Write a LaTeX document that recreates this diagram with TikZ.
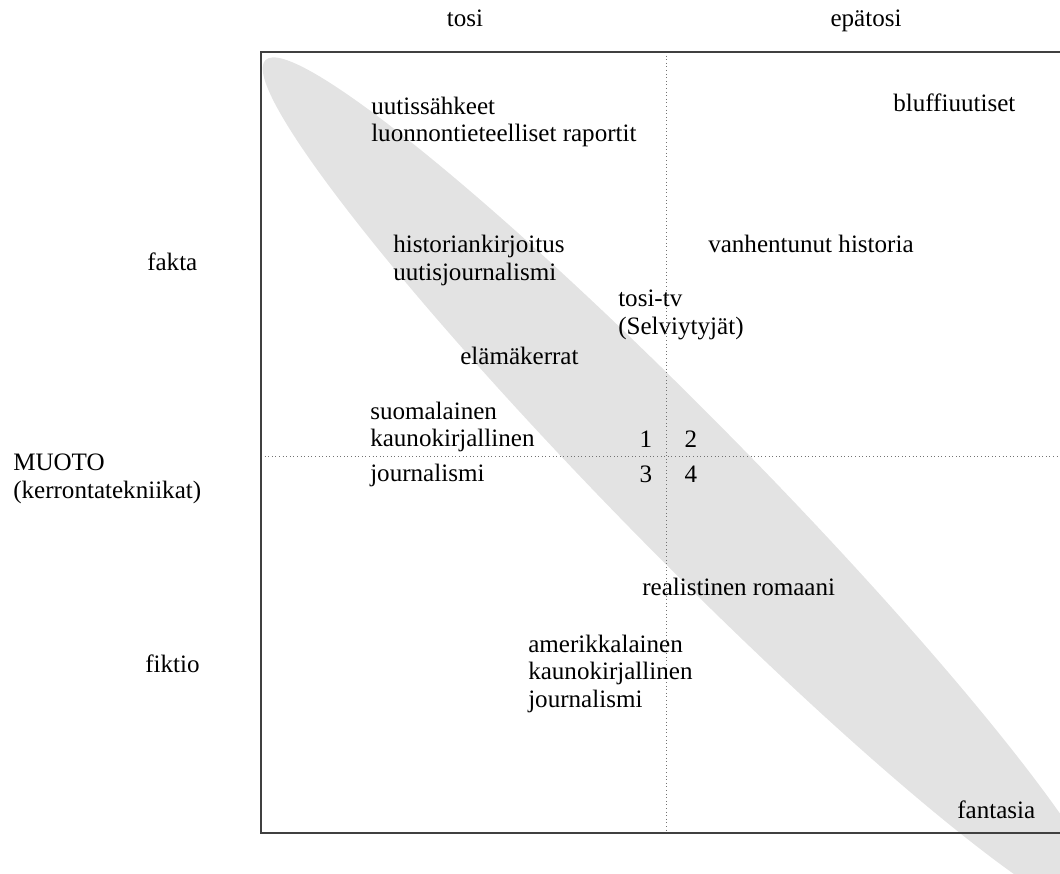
\documentclass[tikz,border=0pt]{standalone}
\usepackage{fontspec}
\setmainfont{Liberation Serif}
\begin{document}
\begin{tikzpicture}[x=0.75pt,y=-0.75pt]
      \tikzstyle{every node}=[inner sep=0pt, font=\fontsize{18.8}{20.6}\selectfont]
      \tikzstyle{lbl}=[anchor=base west, align=left]
      \tikzstyle{num}=[anchor=base]
      \tikzstyle{cross}=[black!55, dotted, line width=0.7pt]
      \useasboundingbox (0,0) rectangle (1060,874);
      \clip (0,0) rectangle (1060,874);
      % band behind the quadrants
      \fill[black!11, rotate around={-45.5:(686,488)}] (686,488) ellipse [x radius=600, y radius=68];
      \coordinate (nw) at (261,52);
      \coordinate (se) at (1075,833);
      \coordinate (vt) at (666,52);
      \coordinate (vb) at (666,833);
      \coordinate (hl) at (261,456.5);
      \coordinate (hr) at (1075,456.5);
      \draw[cross] (vt) -- (vb);
      \draw[cross] (hl) -- (hr);
      \draw[black!75, line width=1.2pt] (nw) rectangle (se);
      % axis labels
      \node[num] (tosi) at (465,27) {tosi};
      \node[num] (epatosi) at (866,27) {epätosi};
      \node[lbl] (fakta) at (147,270) {fakta};
      \node[lbl] (muoto) at (13,498) {MUOTO\\(kerrontatekniikat)};
      \node[lbl] (fiktio) at (145,672) {fiktio};
      % genres
      \node[lbl] (uutis) at (371,142) {uutissähkeet\\luonnontieteelliset raportit};
      \node[lbl] (bluffi) at (893,112) {bluffiuutiset};
      \node[lbl] (histo) at (393,280) {historiankirjoitus\\uutisjournalismi};
      \node[lbl] (vanha) at (708,252) {vanhentunut historia};
      \node[lbl] (tositv) at (618,334) {tosi-tv\\(Selviytyjät)};
      \node[lbl] (elama) at (460,364) {elämäkerrat};
      \node[lbl] (suomi) at (370,481) {suomalainen\\kaunokirjallinen\\[5pt]journalismi};
      \node[lbl] (real) at (642,595) {realistinen romaani};
      \node[lbl] (amer) at (528,707) {amerikkalainen\\kaunokirjallinen\\journalismi};
      \node[lbl] (fant) at (957,818) {fantasia};
      \foreach \n/\x/\y in {1/646/447, 2/691/447, 3/646/482, 4/691/482} {
        \node[num] (q\n) at (\x,\y) {\n};
      }
\end{tikzpicture}
\end{document}
